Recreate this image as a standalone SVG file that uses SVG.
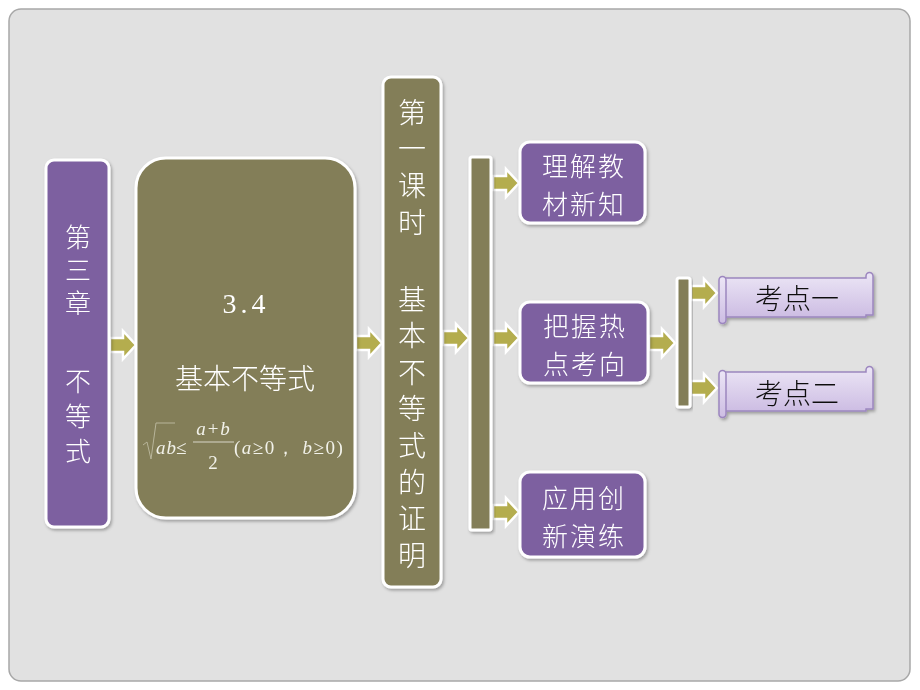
<svg xmlns="http://www.w3.org/2000/svg" width="920" height="690" viewBox="0 0 920 690">
<defs>
<style>
.purple{fill:#7d60a0;stroke:#ffffff;stroke-width:3}
.olive{fill:#837e58;stroke:#ffffff;stroke-width:3}
.arrow{fill:#b4ad4e;stroke:#ffffff;stroke-width:2.5;stroke-linejoin:miter}
.wt{fill:#ffffff;font-family:"Noto Sans CJK SC","Noto Sans CJK JP",sans-serif;font-weight:300;text-anchor:middle;dominant-baseline:central}
.vt{fill:#ffffff;font-family:"Noto Sans CJK SC","Noto Sans CJK JP",sans-serif;font-weight:300;writing-mode:vertical-rl;text-orientation:upright}
.bt{fill:#111111;font-family:"Noto Sans CJK SC","Noto Sans CJK JP",sans-serif;font-weight:300;text-anchor:middle;dominant-baseline:central}
.box2{font-size:26px;letter-spacing:2px}
.math{fill:#f2f2ea;font-family:"Liberation Serif","DejaVu Serif",serif;font-style:italic;font-size:19px}
.mathr{fill:#f2f2ea;font-family:"Liberation Serif","DejaVu Serif",serif;font-size:19px}
.scroll{fill:url(#sg);stroke:#9c86bf;stroke-width:1.5}
</style>
<linearGradient id="sg" x1="0" y1="0" x2="0" y2="1">
<stop offset="0" stop-color="#ece6f6"/>
<stop offset="1" stop-color="#cdbde3"/>
</linearGradient>
<filter id="sh" x="-10%" y="-10%" width="130%" height="130%">
<feDropShadow dx="1.5" dy="2" stdDeviation="1.5" flood-color="#000" flood-opacity="0.3"/>
</filter>
<path id="arr" d="M0,-7 H13 V-14 L26,0 L13,14 V7 H0 Z"/>
</defs>
<rect x="0" y="0" width="920" height="690" fill="#ffffff"/>
<rect x="9" y="9" width="901" height="672" rx="12" fill="#e1e1e1" stroke="#a8a8a8" stroke-width="1.5"/>

<g id="connectors">
<use href="#arr" class="arrow" x="110" y="345"/>
<use href="#arr" class="arrow" x="356" y="343"/>
<use href="#arr" class="arrow" x="443" y="338"/>
<use href="#arr" class="arrow" x="493" y="183"/>
<use href="#arr" class="arrow" x="493" y="338"/>
<use href="#arr" class="arrow" x="493" y="512"/>
<use href="#arr" class="arrow" x="649" y="343"/>
<use href="#arr" class="arrow" x="691" y="293"/>
<use href="#arr" class="arrow" x="691" y="388"/>
</g>

<g id="chapter" filter="url(#sh)">
<rect class="purple" x="46" y="160" width="63" height="367" rx="8"/>
<text class="vt" x="78" y="224" font-size="26" letter-spacing="7">第三章</text>
<text class="vt" x="78" y="368" font-size="26" letter-spacing="9">不等式</text>
</g>

<g id="section" filter="url(#sh)">
<rect class="olive" x="136" y="158" width="219" height="360" rx="30"/>
<text x="246" y="303" font-family="Liberation Serif,serif" font-size="28" fill="#ffffff" text-anchor="middle" dominant-baseline="central" letter-spacing="4">3.4</text>
<text class="wt" x="245" y="377" font-size="28">基本不等式</text>
<g>
<path d="M143,445 L147,442 L151,459 L156,423 H175" fill="none" stroke="#b8b59a" stroke-width="1"/>
<text class="math" x="156" y="454" letter-spacing="1">ab</text>
<text class="mathr" x="176" y="454" font-size="22">≤</text>
<text class="math" x="214" y="435" text-anchor="middle" letter-spacing="2">a<tspan font-style="normal">+</tspan>b</text>
<line x1="193" y1="442" x2="234" y2="442" stroke="#d8d6c8" stroke-width="1"/>
<text class="mathr" x="213" y="469" text-anchor="middle">2</text>
<text class="mathr" x="234" y="454" letter-spacing="1.5">(<tspan font-style="italic">a</tspan>≥0，<tspan font-style="italic"> b</tspan>≥0)</text>
</g>
</g>

<g id="lesson" filter="url(#sh)">
<rect class="olive" x="383" y="77" width="58" height="510" rx="8"/>
<text class="vt" x="412" y="98" font-size="28" letter-spacing="8.7">第一课时</text>
<text class="vt" x="412" y="285" font-size="28" letter-spacing="8.6">基本不等式的证明</text>
</g>

<g id="bar1" filter="url(#sh)">
<rect class="olive" x="470" y="157" width="21" height="373" rx="2"/>
</g>

<g id="understand" filter="url(#sh)">
<rect class="purple" x="520" y="142" width="125" height="81" rx="10"/>
<text class="wt box2" x="584" y="164">理解教</text>
<text class="wt box2" x="584" y="202">材新知</text>
</g>

<g id="grasp" filter="url(#sh)">
<rect class="purple" x="520" y="302" width="128" height="81" rx="10"/>
<text class="wt box2" x="585" y="324">把握热</text>
<text class="wt box2" x="585" y="362">点考向</text>
</g>

<g id="apply" filter="url(#sh)">
<rect class="purple" x="520" y="472" width="125" height="85" rx="10"/>
<text class="wt box2" x="584" y="496">应用创</text>
<text class="wt box2" x="584" y="534">新演练</text>
</g>

<g id="bar2" filter="url(#sh)">
<rect class="olive" x="677" y="278" width="13" height="129" rx="2"/>
</g>

<g id="point1" filter="url(#sh)">
<path class="scroll" d="M725,278 H866 V276 a3.5,3.5 0 0 1 7,0 V315 H866 V317 H725 Z"/>
<path class="scroll" d="M719,280 a3.5,3.5 0 0 1 7,0 V320 a3.5,3.5 0 0 1 -7,0 Z"/>
<text class="bt" x="797" y="297" font-size="28">考点一</text>
</g>

<g id="point2" filter="url(#sh)">
<path class="scroll" d="M725,372 H866 V370 a3.5,3.5 0 0 1 7,0 V409 H866 V411 H725 Z"/>
<path class="scroll" d="M719,374 a3.5,3.5 0 0 1 7,0 V414 a3.5,3.5 0 0 1 -7,0 Z"/>
<text class="bt" x="797" y="392" font-size="28">考点二</text>
</g>
</svg>
